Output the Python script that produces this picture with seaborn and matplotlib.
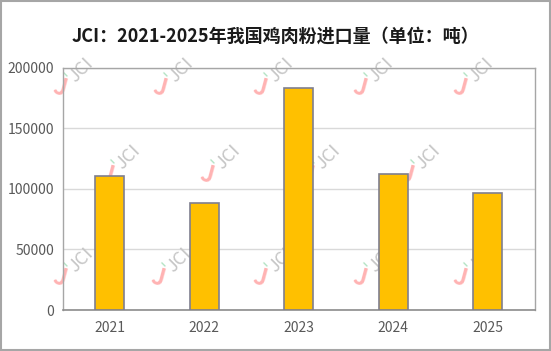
import matplotlib
matplotlib.use("Agg")
import matplotlib.pyplot as plt
import seaborn as sns
import pandas as pd
from matplotlib.patches import Rectangle

years = ["2021", "2022", "2023", "2024", "2025"]
imports = [110800, 88500, 182900, 112200, 96800]
yticks = [0, 50000, 100000, 150000, 200000]
title = "JCI：2021-2025年我国鸡肉粉进口量（单位：吨）"

sns.set_theme(style="white")
plt.rcParams['font.family'] = ['Noto Sans CJK SC', 'DejaVu Sans']

df = pd.DataFrame({"year": years, "value": imports})

W, H = 551, 351
fig = plt.figure(figsize=(W / 100, H / 100), dpi=100)
ax = fig.add_axes([62.5/W, 1 - 310/H, (535 - 62.5)/W, (310 - 67.5)/H])

sns.barplot(data=df, x="year", y="value", ax=ax, color="#FFC000",
            width=0.31, edgecolor="#7F7F8F", linewidth=1.2, saturation=1, zorder=3)

ax.set_ylim(0, 200000)
ax.set_yticks(yticks)
ax.set_yticklabels([str(v) for v in yticks])
ax.yaxis.grid(True, color="#D9D9D9", linewidth=1, zorder=0)
ax.set_axisbelow(True)
ax.set_xlabel("")
ax.set_ylabel("")
ax.tick_params(axis="both", length=0, labelsize=10, colors="#595959", pad=6)
ax.tick_params(axis="x", pad=8)
for s in ["left", "top", "right"]:
    ax.spines[s].set_color("#A6A6A6")
    ax.spines[s].set_linewidth(1)
ax.spines["bottom"].set_color("#8C8C8C")
ax.spines["bottom"].set_linewidth(1.2)

# watermark logos (pixel positions of the red "J")
wm_pos = [(60, 88), (160, 88), (260, 88), (360, 88), (460, 88),
          (107, 175), (207, 175), (307, 175), (407, 175),
          (60, 278), (158, 278), (260, 278), (360, 278), (460, 278)]
for (px, py) in wm_pos:
    ax.text(px / W, 1 - py / H, "J", transform=fig.transFigure, rotation=-15,
            fontsize=17, color="#FFB3B3", ha="center", va="center",
            fontweight="bold", zorder=1, clip_on=False)
    ax.text((px + 4) / W, 1 - (py - 14) / H, "–", transform=fig.transFigure,
            rotation=-45, fontsize=9, color="#B5E4C6", ha="center", va="center",
            fontweight="bold", zorder=1, clip_on=False)
    ax.text((px + 21) / W, 1 - (py - 18) / H, "JCI", transform=fig.transFigure,
            rotation=45, fontsize=13, color="#C6C6C6", ha="center", va="center",
            zorder=1, clip_on=False)

fig.suptitle(title, y=1 - 27/H, fontsize=13, fontweight="bold", color="#1A1A1A")

fig.patches.append(Rectangle((0.002, 0.003), 0.996, 0.994, transform=fig.transFigure,
                             fill=False, edgecolor="#A6A6A6", linewidth=1.5))

fig.savefig("out.png", dpi=100)
